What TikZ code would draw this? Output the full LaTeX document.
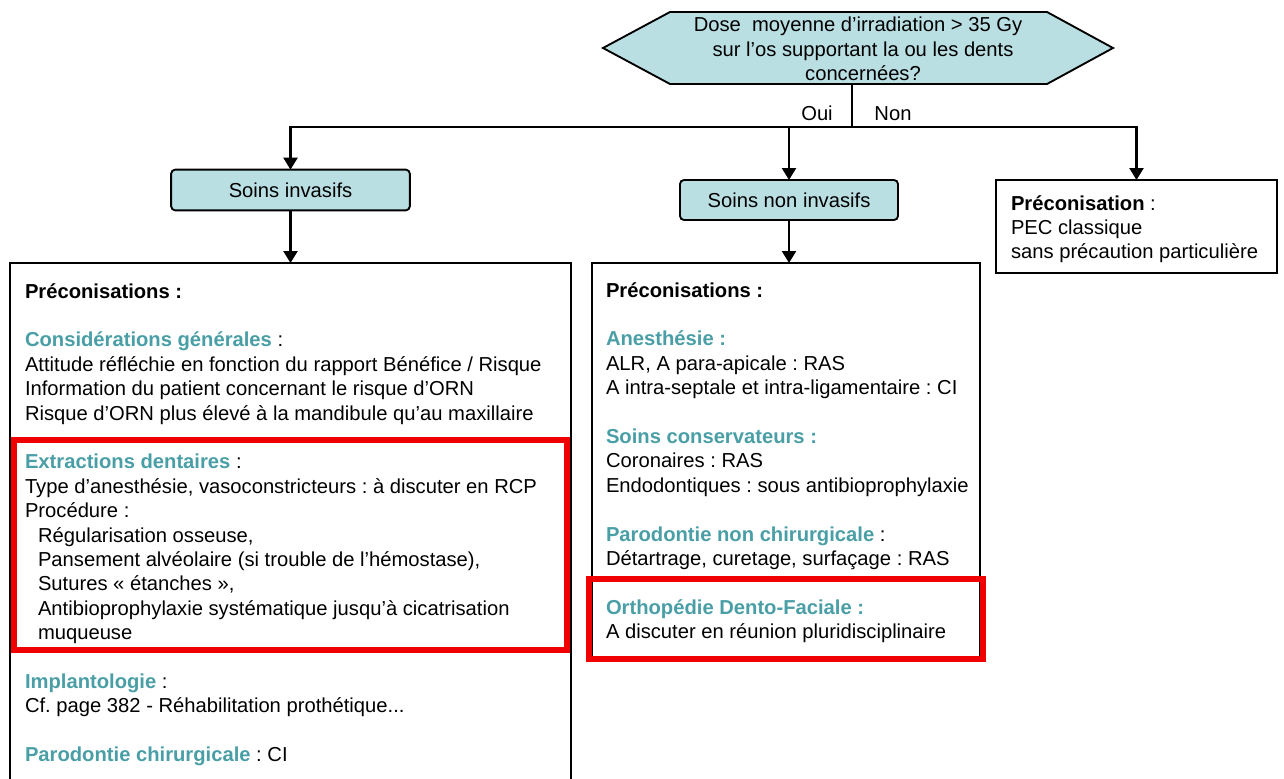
\documentclass[tikz,border=0pt]{standalone}
\usepackage{fontspec}
\setmainfont{Liberation Sans}
\usetikzlibrary{arrows.meta,calc}
\definecolor{tealhd}{RGB}{74,159,166}
\definecolor{fillblue}{RGB}{186,223,227}
\definecolor{redframe}{RGB}{240,0,0}
\newcommand\hd[1]{\textcolor{tealhd}{\bfseries #1}}
\frenchspacing
\begin{document}
\frenchspacing
\begin{tikzpicture}[x=0.75pt,y=-0.75pt,
  every node/.style={inner sep=0pt, outer sep=0pt},
  txt/.style={font=\fontsize{15.15}{18.3}\selectfont\frenchspacing, anchor=base west},
  ctxt/.style={font=\fontsize{15.15}{18.3}\selectfont\frenchspacing, anchor=base},
  conn/.style={line width=1.8pt},
  arr/.style={line width=1.8pt, -{Triangle[length=9pt,width=10.5pt]}},
  bluebox/.style={draw, line width=1.4pt, fill=fillblue, rounded corners=3pt, font=\fontsize{15.15}{18.3}\selectfont},
  plainbox/.style={draw, line width=1.4pt},
  redbox/.style={draw=redframe, line width=4.2pt},
]
\clip (0,0) rectangle (1284,778);
\fill[white] (0,0) rectangle (1284,778);

% question hexagon
\draw[line width=1.4pt, fill=fillblue] (670,12) -- (1047,12) -- (1113,48) -- (1047,84) -- (670,84) -- (603,48) -- cycle;
\node[ctxt] (q1) at (858,31.7) {Dose\ \ moyenne d’irradiation > 35 Gy};
\node[ctxt] (q2) at (863,56) {sur l’os supportant la ou les dents};
\node[ctxt] (q3) at (863,80.3) {concernées?};
\coordinate (qs) at (852,84);

% boxes
\node[bluebox, minimum width=179pt, minimum height=30.5pt] (inv) at (290.5,190) {Soins invasifs};
\node[bluebox, minimum width=163.5pt, minimum height=30pt] (non) at (789,200) {Soins non invasifs};
\node[plainbox, minimum width=210.75pt, minimum height=69.75pt] (pec) at (1136.5,226.5) {};
\node[plainbox, minimum width=420.75pt, minimum height=420pt] (lb) at (290.5,543) {};
\node[plainbox, minimum width=291pt, minimum height=296.25pt] (mb) at (786,460.5) {};

% connectors
\draw[conn] (qs) -- ++(0,43) coordinate (j);
\draw[arr] (j) -| (inv.north);
\draw[arr] (j) -| (non.north);
\draw[arr] (j) -| (pec.north);
\draw[arr] (inv.south) -- (lb.north);
\draw[arr] (non.south) -- (non.south |- mb.north);
\node[ctxt] (oui) at (817,120) {Oui};
\node[ctxt] (nonl) at (893,120) {Non};

% right box text
\node[txt] (r1) at (1011,210) {\textbf{Préconisation} :};
\node[txt] (r2) at (1011,234) {PEC classique};
\node[txt] (r3) at (1011,258) {sans précaution particulière};

% left box text
\node[txt] (a1) at (25,298) {\textbf{Préconisations :}};
\node[txt] (a2) at (25,346.8) {\hd{Considérations générales} :};
\node[txt] (a3) at (25,371.2) {Attitude réfléchie en fonction du rapport Bénéfice / Risque};
\node[txt] (a4) at (25,395.6) {Information du patient concernant le risque d’ORN};
\node[txt] (a5) at (25,420) {Risque d’ORN plus élevé à la mandibule qu’au maxillaire};
\node[txt] (a6) at (25,468.8) {\hd{Extractions dentaires} :};
\node[txt] (a7) at (25,493.2) {Type d’anesthésie, vasoconstricteurs : à discuter en RCP};
\node[txt] (a8) at (25,517.6) {Procédure :};
\node[txt] (a9) at (38,542) {Régularisation osseuse,};
\node[txt] (a10) at (38,566.4) {Pansement alvéolaire (si trouble de l’hémostase),};
\node[txt] (a11) at (38,590.8) {Sutures « étanches »,};
\node[txt] (a12) at (38,615.2) {Antibioprophylaxie systématique jusqu’à cicatrisation};
\node[txt] (a13) at (38,639.6) {muqueuse};
\node[txt] (a14) at (25,688.4) {\hd{Implantologie} :};
\node[txt] (a15) at (25,712.8) {Cf. page 382 - Réhabilitation prothétique...};
\node[txt] (a16) at (25,761.6) {\hd{Parodontie chirurgicale} : CI};

% middle box text
\node[txt] (b1) at (606,297) {\textbf{Préconisations :}};
\node[txt] (b2) at (606,345.8) {\hd{Anesthésie :}};
\node[txt] (b3) at (606,370.2) {ALR, A para-apicale : RAS};
\node[txt] (b4) at (606,394.6) {A intra-septale et intra-ligamentaire : CI};
\node[txt] (b5) at (606,443.4) {\hd{Soins conservateurs :}};
\node[txt] (b6) at (606,467.8) {Coronaires : RAS};
\node[txt] (b7) at (606,492.2) {Endodontiques : sous antibioprophylaxie};
\node[txt] (b8) at (606,541) {\hd{Parodontie non chirurgicale} :};
\node[txt] (b9) at (606,565.4) {Détartrage, curetage, surfaçage : RAS};
\node[txt] (b10) at (606,614.2) {\hd{Orthopédie Dento-Faciale :}};
\node[txt] (b11) at (606,638.6) {A discuter en réunion pluridisciplinaire};

% red frames
\node[redbox, minimum width=414.75pt, minimum height=157.5pt] (rf1) at (290.5,545) {};
\node[redbox, minimum width=295.5pt, minimum height=60pt] (rf2) at (786,619) {};
\end{tikzpicture}
\end{document}
